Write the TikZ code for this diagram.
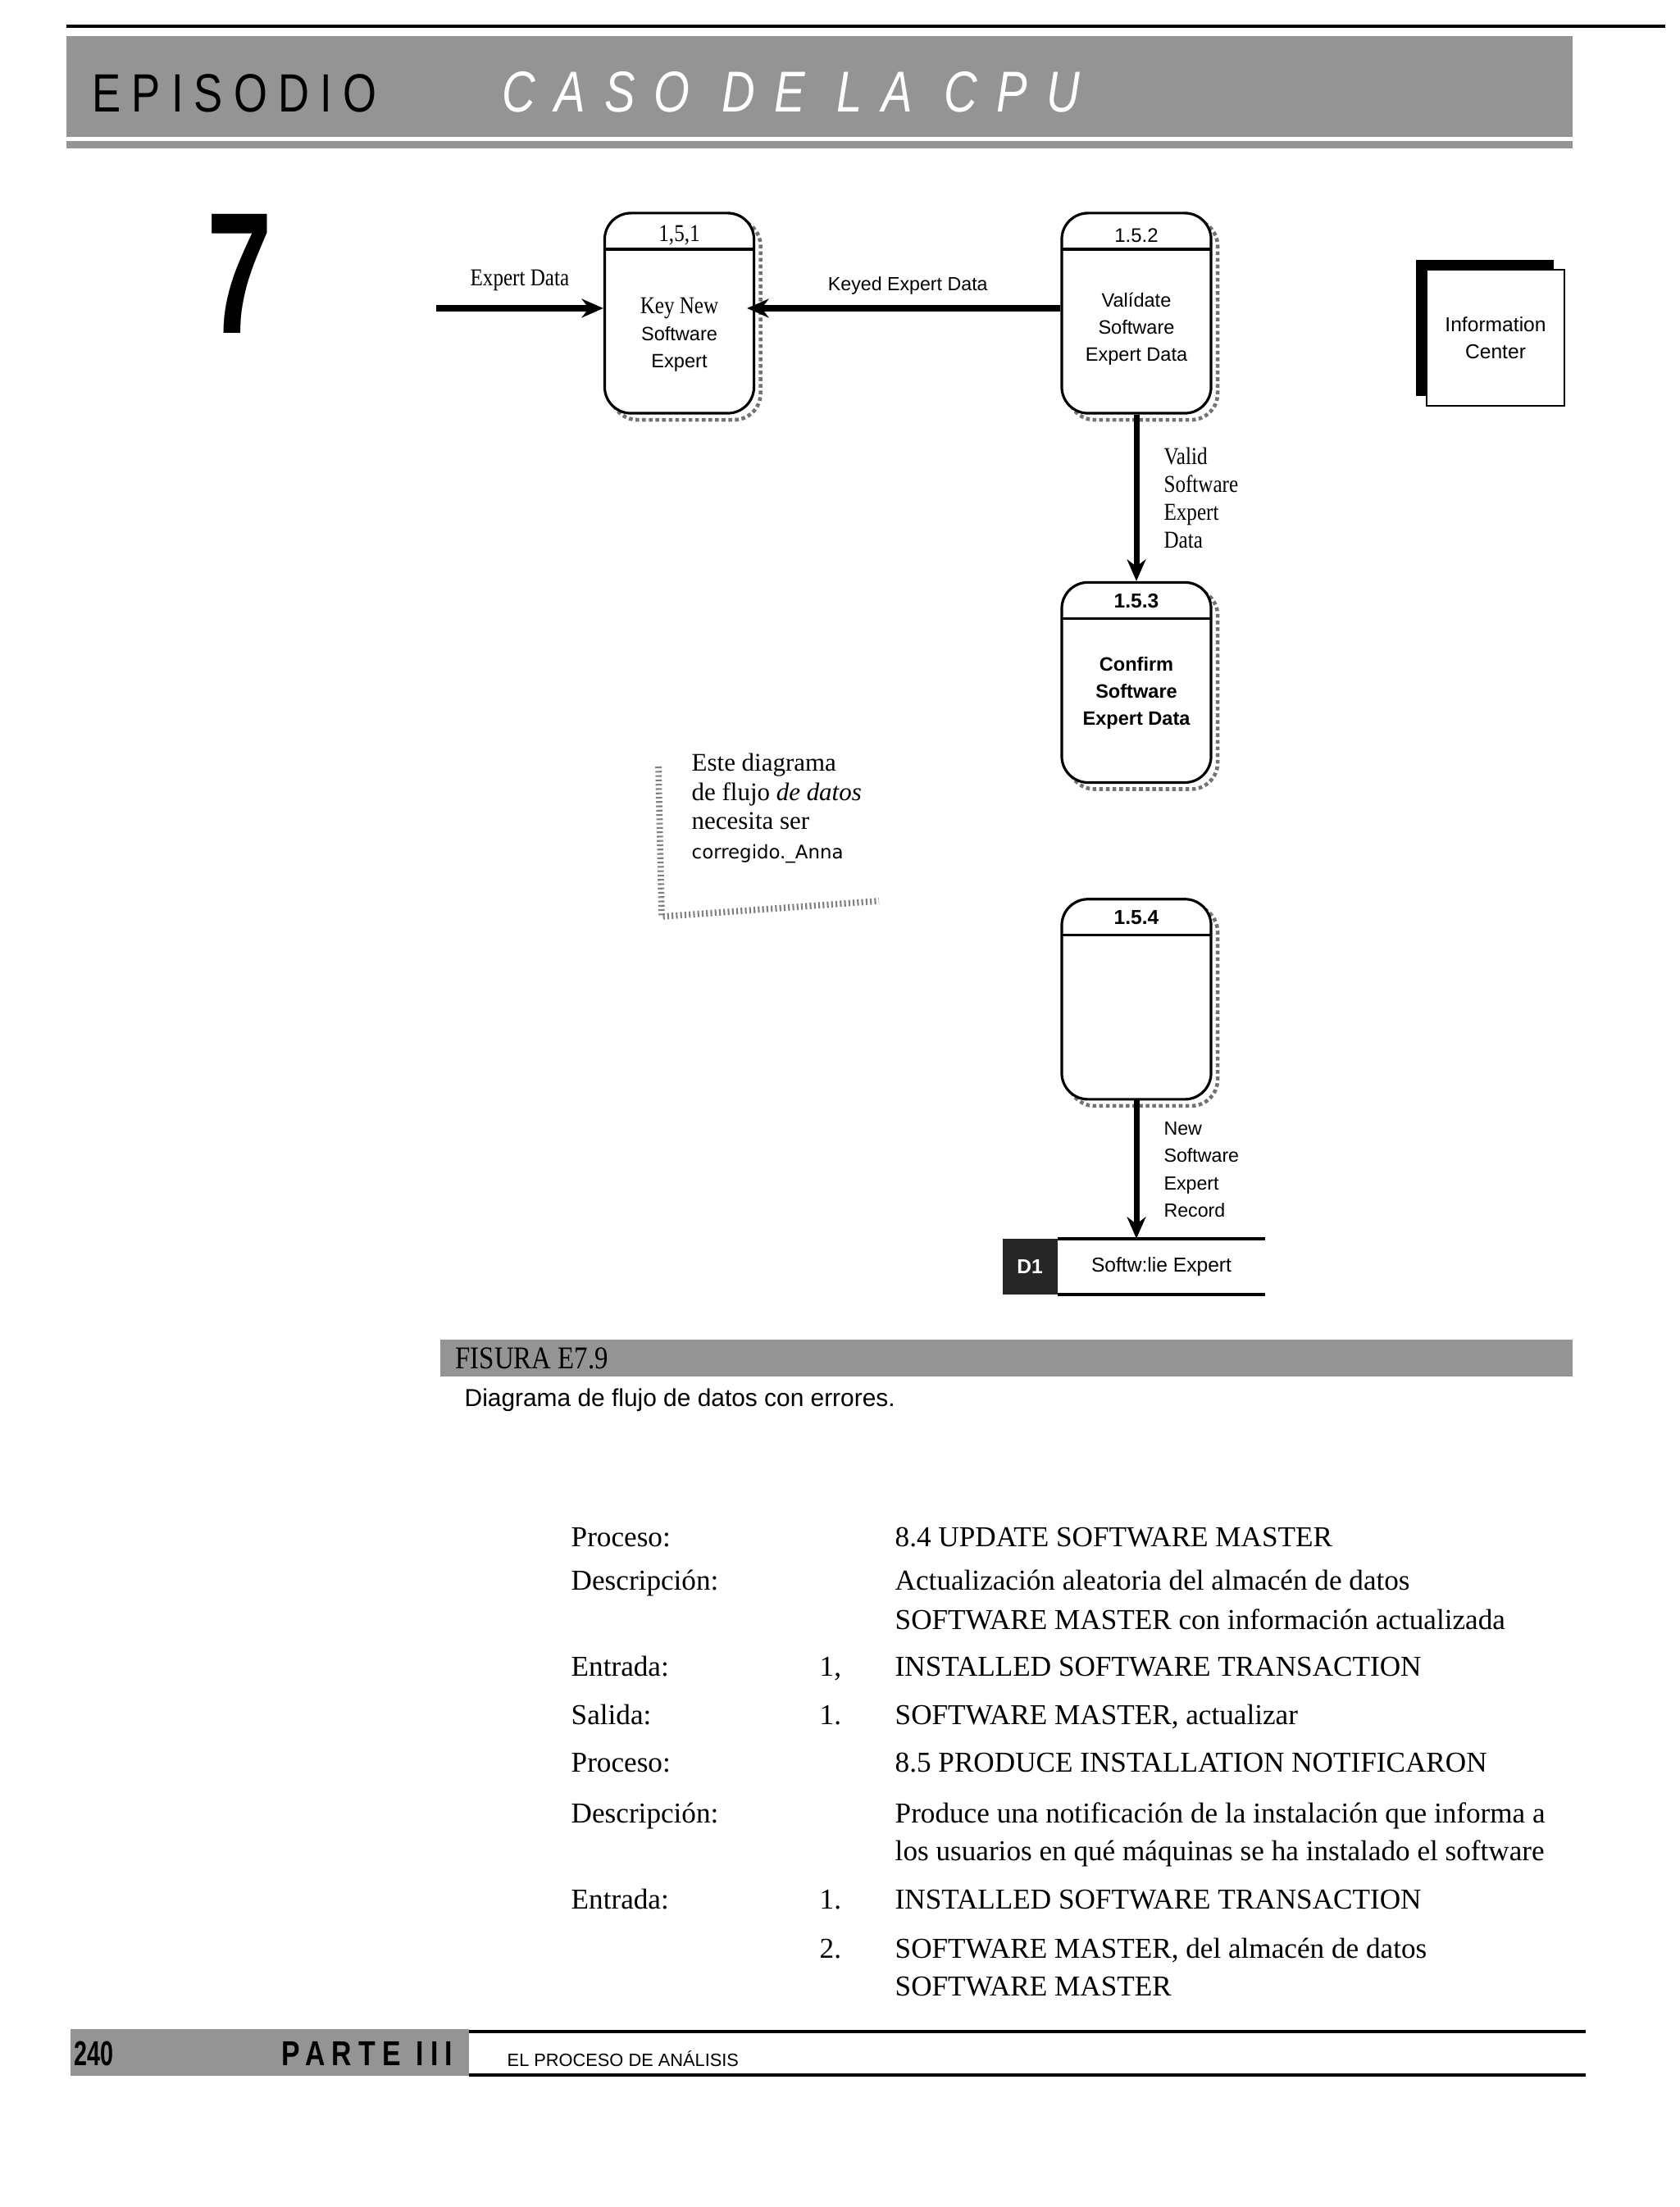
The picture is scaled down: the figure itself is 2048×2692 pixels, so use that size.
\documentclass[tikz,border=0pt]{standalone}
\usepackage{fontspec}
\setmainfont{Liberation Serif}
\setsansfont{Liberation Sans}
\newfontfamily\scanserif[FakeStretch=0.85]{Liberation Serif}
\newfontfamily\headsans[FakeStretch=0.8,LetterSpace=20]{Liberation Sans}
\newfontfamily\slimsans[FakeStretch=0.68]{Liberation Sans}
\newfontfamily\handfont{DejaVu Sans}
\usepackage{tikz}
\usetikzlibrary{arrows.meta,positioning,shadows,calc}

\begin{document}
\begin{tikzpicture}[
  x=0.01cm, y=-0.01cm,
  proc/.style={draw, line width=0.9pt, fill=white, rounded corners=0.32cm, minimum width=1.82cm, minimum height=2.44cm, inner sep=0pt,
    general shadow={shadow xshift=0.08cm, shadow yshift=-0.08cm, draw=black!55, densely dotted, line width=1.3pt, fill=white},
    path picture={\draw[line width=0.9pt] ([yshift=-0.44cm]path picture bounding box.north west) -- ([yshift=-0.44cm]path picture bounding box.north east);}},
  pnum/.style={inner sep=0pt, font=\sffamily\fontsize{6.8}{8}\selectfont},
  pbody/.style={inner sep=0pt, align=center, font=\sffamily\fontsize{6.7}{9.4}\selectfont},
  ext/.style={draw, line width=0.6pt, fill=white, minimum width=1.68cm, minimum height=1.66cm, align=center, font=\sffamily\fontsize{7}{9.4}\selectfont,
    general shadow={shadow xshift=-0.13cm, shadow yshift=0.12cm, fill=black}},
  flow/.style={-{Stealth[length=7.5pt,width=6.5pt]}, line width=2pt},
  slbl/.style={inner sep=0pt, align=left, font=\scanserif\fontsize{8.4}{9.7}\selectfont},
  flbl/.style={inner sep=0pt, align=left, font=\sffamily\fontsize{6.6}{9.4}\selectfont},
  dsid/.style={fill=black!85, text=white, minimum width=0.67cm, minimum height=0.67cm, inner sep=0pt, font=\sffamily\bfseries\fontsize{7}{8}\selectfont},
  store/.style={minimum width=2.51cm, minimum height=0.67cm, inner sep=0pt, font=\sffamily\fontsize{7}{8}\selectfont,
    append after command={(\tikzlastnode.north west) edge[line width=1pt] (\tikzlastnode.north east)
      (\tikzlastnode.south west) edge[line width=1pt] (\tikzlastnode.south east)}},
  row/.style={anchor=west, inner sep=0pt, text height=6.8pt, text depth=0pt, font=\fontsize{10}{12}\selectfont},
  band/.style={fill=black!42}
]
\useasboundingbox (0,0) rectangle (2048,2692);

% page header
\draw[line width=1.1pt] (81,32) -- (2031,32);
\fill[band] (81,44) rectangle (1918,167);
\fill[band] (81,172) rectangle (1918,181);
\node[anchor=west, inner sep=0pt, font=\headsans\fontsize{18.7}{20}\selectfont] (epi) at (112,114) {EPISODIO};
\node[anchor=west, inner sep=0pt, text=white, font=\headsans\addfontfeature{LetterSpace=33}\itshape\fontsize{20}{22}\selectfont] (caso) at (612,112) {CASO DE LA CPU};
\node[inner sep=0pt, font=\slimsans\bfseries\fontsize{60}{60}\selectfont] (big) at (292,334) {7};

% processes
\node[proc] (p2) at (1386,382) {};
\node[proc, left=3.72cm of p2] (p1) {};
\node[proc, below=2.03cm of p2] (p3) {};
\node[proc, below=1.39cm of p3] (p4) {};

\node[pnum, font=\scanserif\fontsize{8.4}{9}\selectfont] (n1) at ([yshift=-0.29cm]p1.north) {1,5,1};
\node[pbody] (b1) at ([yshift=-0.26cm]p1.center) {{\scanserif\fontsize{8.4}{9.4}\selectfont Key New}\\Software\\Expert};
\node[pnum] (n2) at ([yshift=-0.29cm]p2.north) {1.5.2};
\node[pbody] (b2) at ([yshift=-0.19cm]p2.center) {Valídate\\Software\\Expert Data};
\node[pnum, font=\sffamily\bfseries\fontsize{7}{8}\selectfont] (n3) at ([yshift=-0.24cm]p3.north) {1.5.3};
\node[pbody, font=\sffamily\bfseries\fontsize{6.7}{9.4}\selectfont] (b3) at ([yshift=-0.13cm]p3.center) {Confirm\\Software\\Expert Data};
\node[pnum, font=\sffamily\bfseries\fontsize{7}{8}\selectfont] (n4) at ([yshift=-0.24cm]p4.north) {1.5.4};

\node[ext] (ic) at (1824,412) {Information\\Center};

% data store
\node[dsid] (d1) at (1256,1545) {D1};
\node[store, right=0pt of d1] (ds) {Softw:lie Expert};

% flows
\coordinate (xin) at (532,376);
\draw[flow] (xin) -- (xin -| p1.west) node[slbl, midway, above=0.18cm] (l1) {Expert Data};
\draw[flow, shorten >=-0.1cm] (p2.west |- xin) -- (p1.east |- xin) node[flbl, midway, above=0.13cm] (l2) {Keyed Expert Data};
\draw[flow] (p2) -- (p3) node[slbl, midway, right=0.3cm] (l3) {Valid\\Software\\Expert\\Data};
\draw[flow] (p4.south) -- (p4.south |- ds.north) node[flbl, midway, right=0.3cm] (l4) {New\\Software\\Expert\\Record};

% reviewer note
\draw[black!50, line width=2.2pt, dash pattern=on 0.6pt off 0.9pt] (803,935) -- (807,1118) -- (1072,1099);
\node[anchor=west, inner sep=0pt, align=left, font=\fontsize{8.8}{10.2}\selectfont] (note) at (843,986) {Este diagrama\\de flujo \textit{de datos}\\necesita ser\\{\handfont\fontsize{6.5}{10.2}\selectfont corregido.\_Anna}};

% figure caption
\fill[band] (537,1634) rectangle (1918,1679);
\node[anchor=west, inner sep=0pt, font=\scanserif\fontsize{11}{12}\selectfont] (fig) at (555,1657) {FISURA E7.9};
\node[anchor=west, inner sep=0pt, font=\sffamily\fontsize{8.5}{10}\selectfont] (cap) at (566,1708) {Diagrama de flujo de datos con errores.};

% process descriptions
\node[row] (k1) at (696,1875) {Proceso:};
\node[row] (v1) at (1091,1875) {8.4 UPDATE SOFTWARE MASTER};
\node[row] (k2) at (696,1928) {Descripción:};
\node[row] (v2) at (1091,1928) {Actualización aleatoria del almacén de datos};
\node[row] (v3) at (1091,1976) {SOFTWARE MASTER con información actualizada};
\node[row] (k3) at (696,2033) {Entrada:};
\node[row] (i3) at (999,2033) {1,};
\node[row] (v4) at (1091,2033) {INSTALLED SOFTWARE TRANSACTION};
\node[row] (k4) at (696,2092) {Salida:};
\node[row] (i4) at (999,2092) {1.};
\node[row] (v5) at (1091,2092) {SOFTWARE MASTER, actualizar};
\node[row] (k5) at (696,2150) {Proceso:};
\node[row] (v6) at (1091,2150) {8.5 PRODUCE INSTALLATION NOTIFICARON};
\node[row] (k6) at (696,2212) {Descripción:};
\node[row] (v7) at (1091,2212) {Produce una notificación de la instalación que informa a};
\node[row] (v8) at (1091,2258) {los usuarios en qué máquinas se ha instalado el software};
\node[row] (k7) at (696,2317) {Entrada:};
\node[row] (i7) at (999,2317) {1.};
\node[row] (v9) at (1091,2317) {INSTALLED SOFTWARE TRANSACTION};
\node[row] (i8) at (999,2377) {2.};
\node[row] (v10) at (1091,2377) {SOFTWARE MASTER, del almacén de datos};
\node[row] (v11) at (1091,2423) {SOFTWARE MASTER};

% page footer
\fill[band] (86,2475) rectangle (572,2532);
\draw[line width=1pt] (572,2478) -- (1934,2478);
\draw[line width=1.2pt] (572,2531) -- (1934,2531);
\node[anchor=west, inner sep=0pt, font=\slimsans\bfseries\fontsize{12}{14}\selectfont] (pg) at (90,2505) {240};
\node[anchor=west, inner sep=0pt, font=\headsans\bfseries\fontsize{12}{14}\selectfont] (part) at (343,2505) {PARTE III};
\node[anchor=west, inner sep=0pt, font=\sffamily\fontsize{6.2}{7}\selectfont] (sec) at (618,2511) {EL PROCESO DE ANÁLISIS};
\end{tikzpicture}
\end{document}
